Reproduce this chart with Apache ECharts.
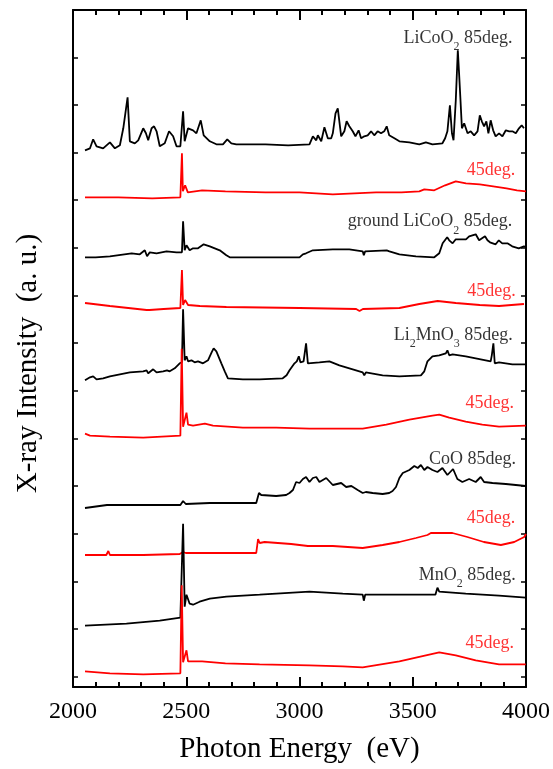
<!DOCTYPE html>
<html>
<head>
<meta charset="utf-8">
<script src="https://cdn.jsdelivr.net/npm/echarts@6/dist/echarts.min.js"></script>
<style>
  html, body { margin: 0; padding: 0; background: #fff; }
  #chart { width: 553px; height: 769px; }
</style>
</head>
<body>
<div id="chart"></div>
<script>
// x ticks (eV)
const xTicks = [2000, 2500, 3000, 3500, 4000];

// spectra: [photon energy (eV), intensity (a.u., above own baseline)]
const licoo2_85 = [[2053,-6],[2075,-4],[2089,5],[2104,-2],[2133,-4],[2163,2],[2185,-4],[2207,-1],[2222,16],[2233,34],[2241,47],[2251,3],[2273,1],[2288,4],[2310,16],[2322,11],[2332,4],[2347,16],[2358,18],[2369,13],[2383,-2],[2405,1],[2424,13],[2442,8],[2457,-2],[2474,-2],[2486,33],[2493,3],[2508,16],[2530,14],[2545,11],[2564,24],[2577,9],[2604,3],[2633,0],[2662,0],[2681,5],[2699,1],[2721,0],[2850,0],[2950,-1],[3044,0],[3059,8],[3074,4],[3081,9],[3096,3],[3110,17],[3125,6],[3140,6],[3147,11],[3159,31],[3169,36],[3176,34],[3184,8],[3198,13],[3208,23],[3220,18],[3235,13],[3247,8],[3261,14],[3272,6],[3286,8],[3301,9],[3316,13],[3330,9],[3345,13],[3360,11],[3374,13],[3385,18],[3396,9],[3419,6],[3441,3],[3485,2],[3529,0],[3558,2],[3587,0],[3631,1],[3643,6],[3653,13],[3664,39],[3673,11],[3680,4],[3690,44],[3699,94],[3705,69],[3711,43],[3717,16],[3727,21],[3742,11],[3756,13],[3771,9],[3786,13],[3796,29],[3805,23],[3815,18],[3825,23],[3834,11],[3844,24],[3855,14],[3866,8],[3881,11],[3896,8],[3911,14],[3926,13],[3940,13],[3955,11],[3969,16],[3981,19],[3991,16]];
const licoo2_45 = [[2053,0],[2200,0],[2350,-1],[2474,0],[2478,0],[2481,44],[2485,6],[2488,6],[2495,12],[2507,5],[2570,7],[2673,6],[2850,5],[3000,5],[3147,3],[3338,5],[3450,5],[3529,6],[3551,8],[3595,7],[3643,12],[3690,16],[3735,14],[3796,13],[3855,11],[3914,9],[3960,7],[4000,6]];
const ground_85 = [[2053,0],[2100,0],[2163,1],[2259,4],[2295,3],[2317,7],[2327,1],[2339,5],[2369,4],[2413,6],[2457,5],[2481,5],[2486,36],[2493,7],[2501,12],[2515,7],[2530,9],[2552,9],[2577,13],[2604,11],[2648,7],[2677,2],[2692,0],[2824,0],[3000,0],[3015,3],[3029,4],[3059,7],[3147,8],[3220,8],[3279,6],[3284,2],[3290,6],[3385,7],[3391,9],[3397,6],[3441,3],[3514,1],[3595,0],[3617,4],[3632,14],[3652,20],[3661,17],[3676,14],[3690,18],[3735,18],[3749,21],[3778,23],[3793,17],[3819,21],[3830,17],[3841,15],[3866,13],[3880,17],[3895,14],[3918,14],[3939,11],[3968,9],[3991,11],[4000,10]];
const ground_45 = [[2053,3],[2163,0],[2325,-4],[2332,-6],[2338,-4],[2400,-3],[2474,-2],[2481,36],[2486,1],[2495,6],[2508,1],[2560,0],[2677,-1],[3000,-2],[3250,-3],[3265,-5],[3280,-3],[3441,-2],[3529,2],[3610,5],[3690,3],[3796,1],[3881,0],[3991,2]];
const li2mno3_85 = [[2053,-2],[2075,1],[2089,2],[2104,-1],[2133,0],[2163,2],[2207,4],[2251,6],[2310,7],[2325,8],[2332,5],[2354,9],[2369,6],[2398,7],[2415,8],[2427,7],[2449,10],[2471,15],[2481,16],[2486,69],[2493,18],[2501,22],[2508,17],[2523,18],[2537,16],[2552,17],[2574,15],[2596,18],[2612,26],[2621,30],[2633,27],[2655,15],[2670,7],[2684,0],[2750,-1],[2824,-1],[2926,0],[2943,3],[2956,8],[2978,15],[2988,17],[2997,22],[3004,16],[3018,17],[3029,35],[3037,15],[3088,16],[3132,17],[3176,13],[3235,9],[3279,6],[3286,3],[3293,6],[3367,3],[3441,2],[3536,3],[3551,7],[3565,17],[3587,22],[3617,23],[3646,25],[3653,28],[3661,23],[3676,24],[3705,23],[3734,22],[3778,20],[3822,18],[3844,17],[3849,23],[3856,35],[3862,15],[3881,16],[3940,14],[3999,14]];
const li2mno3_45 = [[2053,3],[2075,1],[2163,0],[2310,-1],[2474,1],[2480,88],[2486,10],[2501,24],[2508,12],[2530,11],[2582,13],[2618,11],[2750,9],[2897,9],[3044,8],[3192,8],[3279,8],[3383,12],[3485,17],[3587,21],[3617,22],[3661,19],[3734,15],[3807,12],[3881,10],[3999,11]];
const coo_85 = [[2053,-3],[2150,0],[2156,1],[2163,0],[2383,0],[2474,0],[2486,4],[2498,1],[2604,2],[2809,2],[2821,12],[2831,10],[2897,9],[2941,10],[2956,12],[2971,15],[2985,23],[3000,22],[3015,26],[3029,28],[3044,23],[3059,27],[3074,28],[3088,23],[3118,27],[3147,20],[3184,22],[3206,18],[3229,19],[3257,15],[3279,12],[3286,10],[3293,13],[3323,12],[3367,11],[3396,12],[3411,14],[3426,18],[3441,27],[3456,32],[3485,35],[3507,39],[3522,37],[3536,40],[3551,35],[3565,38],[3587,35],[3609,33],[3631,37],[3653,30],[3678,36],[3697,26],[3719,23],[3749,26],[3778,23],[3800,28],[3815,23],[3852,22],[3911,21],[3955,20],[3999,19]];
const coo_45 = [[2053,0],[2147,0],[2156,4],[2163,0],[2310,0],[2471,1],[2486,3],[2498,2],[2662,2],[2809,2],[2817,16],[2824,12],[2846,13],[2963,11],[3037,9],[3147,9],[3279,7],[3367,10],[3441,13],[3514,17],[3565,20],[3580,22],[3587,20],[3675,22],[3741,18],[3814,13],[3889,10],[3948,13],[3992,18],[4000,21]];
const mno2_85 = [[2053,0],[2236,2],[2383,5],[2474,8],[2486,102],[2493,19],[2501,31],[2515,22],[2530,21],[2559,24],[2604,27],[2677,29],[2824,31],[3044,34],[3191,32],[3279,31],[3284,25],[3290,31],[3441,31],[3600,31],[3609,38],[3617,34],[3734,32],[3881,30],[3999,28]];
const mno2_45 = [[2053,2],[2163,0],[2310,-1],[2474,0],[2480,88],[2486,11],[2501,23],[2508,12],[2530,12],[2570,12],[2673,10],[2824,9],[3044,8],[3191,7],[3279,6],[3441,12],[3558,18],[3617,21],[3690,18],[3778,13],[3881,9],[3999,9]];

const spectra = [licoo2_85, licoo2_45, ground_85, ground_45, li2mno3_85, li2mno3_45, coo_85, coo_45, mno2_85, mno2_45];
// vertical stacking offsets (a.u.)
const offsets = [532.4, 479.4, 419.4, 370.7, 298.4, 240, 171.7, 121.7, 51, 3.4];
const colors = ['#000', '#f00', '#000', '#f00', '#000', '#f00', '#000', '#f00', '#000', '#f00'];

// annotations: [energy at right edge, y (a.u.), text]
const labels = [
  [3940, 638.7, 'LiCoO{s|2} 85deg.'],
  [3952, 506.7, '45deg.'],
  [3939, 455, 'ground LiCoO{s|2} 85deg.'],
  [3955, 385, '45deg.'],
  [3942, 341.7, 'Li{s|2}MnO{s|3} 85deg.'],
  [3947, 273.4, '45deg.'],
  [3956, 217.4, 'CoO 85deg.'],
  [3952, 158.4, '45deg.'],
  [3955, 101.7, 'MnO{s|2} 85deg.'],
  [3947, 33.4, '45deg.']
];

const yTicks = [0, 1, 2, 3, 4, 5, 6, 7, 8, 9, 10, 11, 12, 13, 14].map(k => k * 47.65);

const serif = 'Liberation Serif';
let chart = echarts.init(document.getElementById('chart'));

function xAx(pos) {
  let top = pos === 'top';
  return {
    type: 'value', position: pos, min: xTicks[0], max: xTicks[xTicks.length - 1], interval: 500,
    axisLine: { show: true, onZero: false, lineStyle: { color: '#000', width: 2 } },
    axisTick: { show: true, inside: true, length: 10, lineStyle: { color: '#000', width: 2 } },
    minorTick: { show: true, splitNumber: 5, length: 5, lineStyle: { color: '#000', width: 2 } },
    splitLine: { show: false },
    minorSplitLine: { show: false },
    axisLabel: { show: !top, color: '#000', fontSize: 24, fontFamily: serif, margin: 13,
      formatter: v => String(v) },
    name: top ? '' : 'Photon Energy  (eV)',
    nameLocation: 'middle',
    nameGap: 48,
    nameTextStyle: { color: '#000', fontSize: 29, fontFamily: serif }
  };
}

function yAx(pos) {
  let left = pos === 'left';
  return {
    type: 'value', position: pos, min: -10.3, max: 666.7,
    axisLine: { show: true, onZero: false, lineStyle: { color: '#000', width: 2 } },
    axisTick: { show: true, inside: true, length: 5, customValues: yTicks, lineStyle: { color: '#000', width: 1.5 } },
    axisLabel: { show: false },
    splitLine: { show: false },
    name: left ? 'X-ray Intensity  (a. u.)' : '',
    nameLocation: 'middle',
    nameGap: 30,
    nameTextStyle: { color: '#000', fontSize: 29, fontFamily: serif, padding: [0, 30, 0, 0] }
  };
}

let series = spectra.map((s, i) => ({
  type: 'line',
  xAxisIndex: 0,
  yAxisIndex: 0,
  showSymbol: false,
  silent: true,
  lineStyle: { color: colors[i], width: 1.8 },
  data: s.map(p => [p[0], offsets[i] + p[1]])
}));

series.push({
  type: 'scatter',
  symbolSize: 0,
  silent: true,
  data: labels.map(l => ({
    value: [l[0], l[1]],
    text: l[2],
    label: { color: l[2].indexOf('85deg') >= 0 ? '#000' : '#f00' }
  })),
  label: {
    show: true,
    position: 'left',
    distance: 0,
    fontSize: 18,
    fontFamily: serif,
    lineHeight: 30,
    formatter: p => p.data.text,
    rich: {
      s: { fontSize: 12, fontFamily: serif, lineHeight: 12, verticalAlign: 'bottom' }
    }
  }
});

chart.setOption({
  animation: false,
  backgroundColor: '#fff',
  grid: { left: 73, right: 26, top: 10, bottom: 82 },
  xAxis: [xAx('bottom'), xAx('top')],
  yAxis: [yAx('left'), yAx('right')],
  series: series
});
</script>
</body>
</html>
